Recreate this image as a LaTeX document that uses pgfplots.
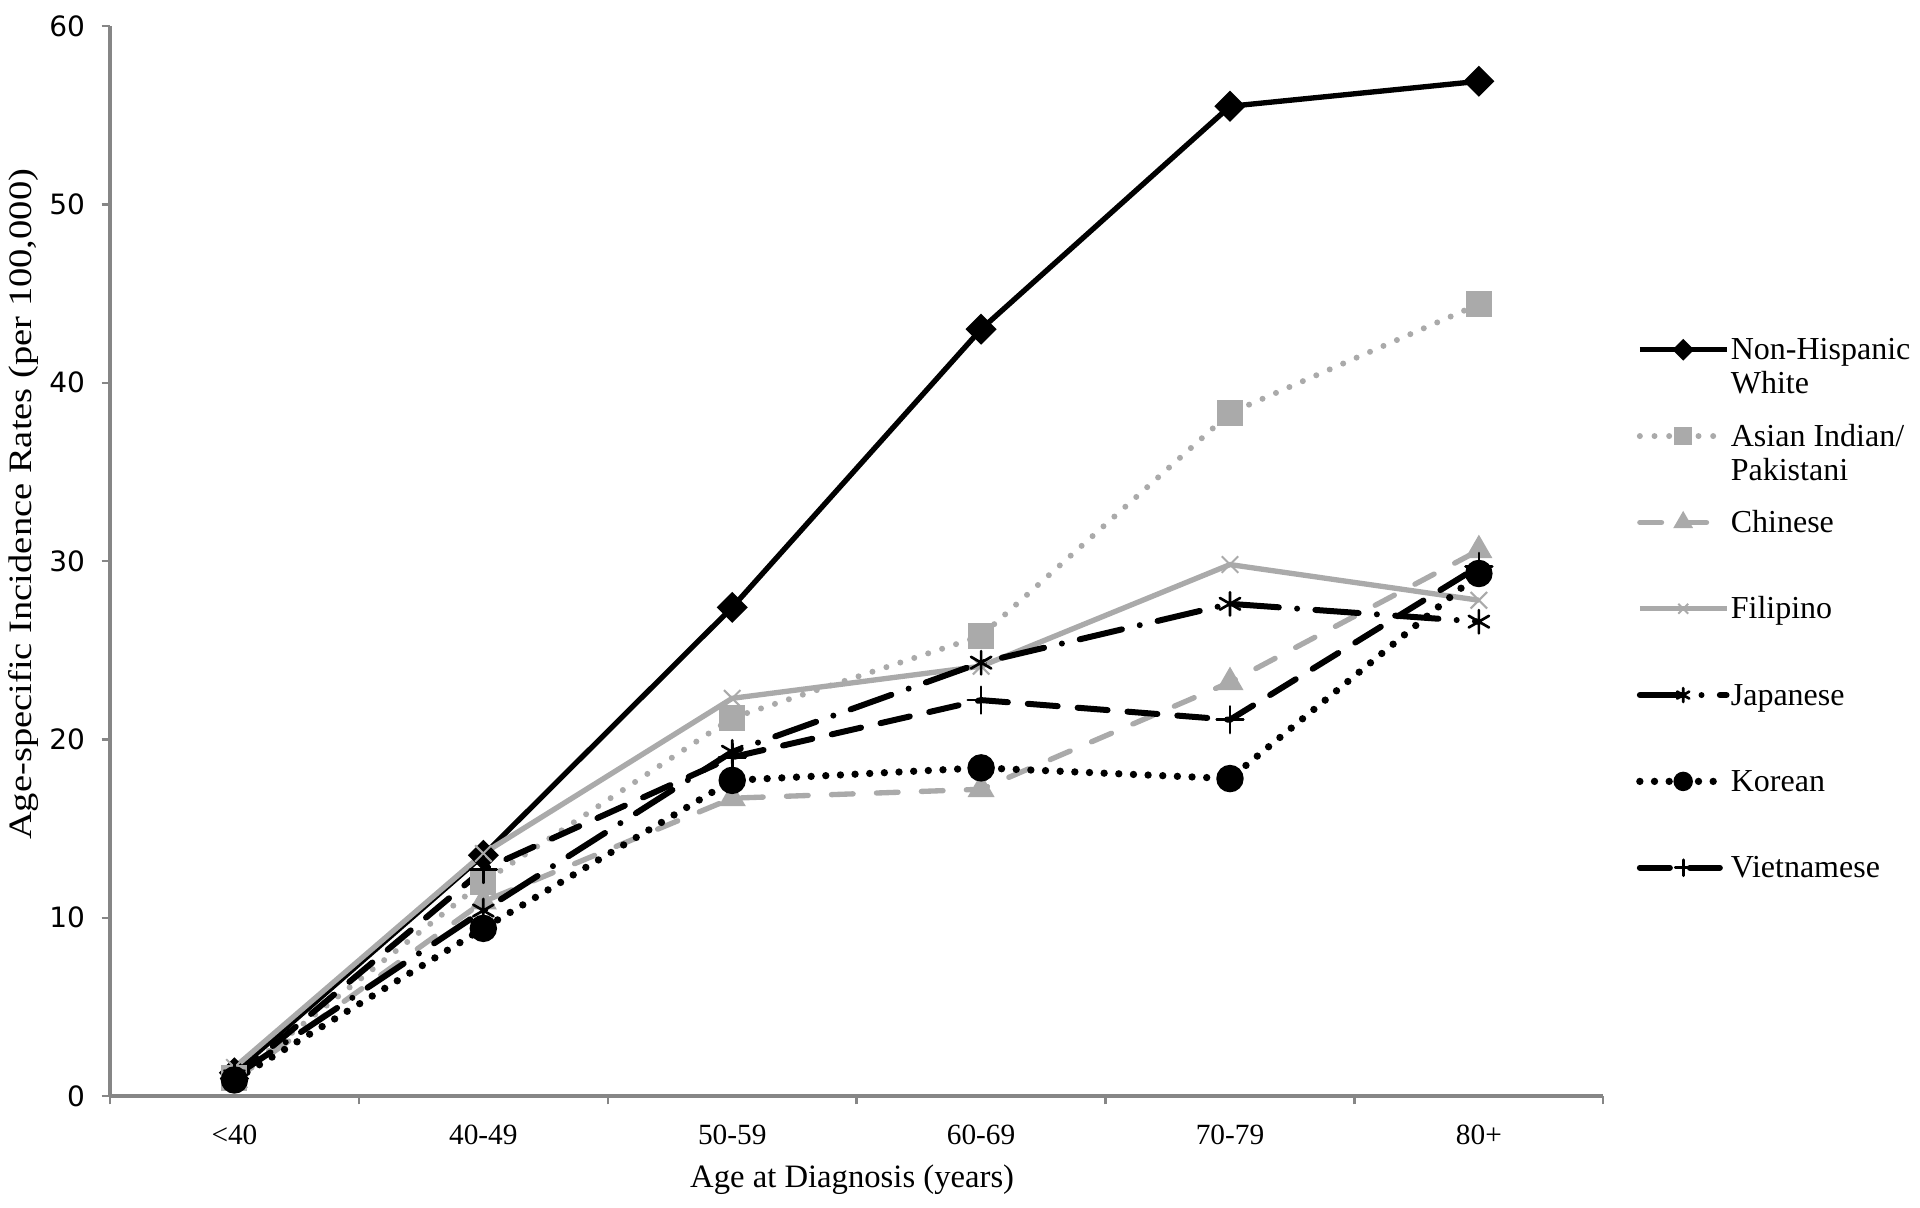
\documentclass[border=0pt]{standalone}
\usepackage{fontspec}
\setmainfont{Liberation Serif}
\newfontfamily\tickfont{DejaVu Sans}
\usepackage{pgfplots}
\pgfplotsset{compat=1.18}
\definecolor{lgray}{RGB}{170,170,170}
\definecolor{axgray}{RGB}{134,134,134}

% one row per age group: <40, 40-49, 50-59, 60-69, 70-79, 80+
\pgfplotstableread{
x  nhw   asian  chinese  filipino  japanese  korean  viet
0  1.3   1.0    0.9      1.6       1.1       0.9     1.0
1  13.5  12.0   10.9     13.6      10.4      9.4     12.7
2  27.4  21.2   16.7     22.3      19.3      17.7    19.0
3  43.0  25.8   17.2     24.1      24.3      18.4    22.2
4  55.5  38.3   23.2     29.8      27.6      17.8    21.1
5  56.9  44.4   30.6     27.8      26.6      29.3    29.7
}\rates

\newcommand\lentry[1]{\begin{tabular}[t]{@{}l@{}}#1\end{tabular}}

\begin{document}
\begin{tikzpicture}
\begin{axis}[
  name=ax,
  scale only axis, width=448pt, height=321pt,
  xmin=-0.5, xmax=5.5, ymin=0, ymax=60,
  clip=false,
  axis lines=left,
  axis line style={-, axgray, line width=1pt},
  xtick={-0.5,0.5,...,5.5},
  x tick label as interval,
  xticklabels={<40,40-49,50-59,60-69,70-79,80+},
  ytick={0,10,...,60},
  tick align=outside, major tick length=2.5pt,
  tick style={axgray, line width=0.7pt},
  /pgf/number format/assume math mode=true,
  yticklabel style={font=\tickfont\fontsize{8.4}{9}\selectfont, xshift=-1.5pt},
  xticklabel style={font=\fontsize{8.8}{10}\selectfont, yshift=-2.6pt},
  every axis x label/.style={at={(axis description cs:0.497,0)}, yshift=-25pt, anchor=center},
  every axis y label/.style={at={(axis description cs:0,0.553)}, xshift=-26pt, rotate=90, anchor=center},
  xlabel={Age at Diagnosis (years)},
  ylabel={\scalebox{1.18}[1]{Age-specific Incidence Rates (per 100,000)}},
  label style={font=\fontsize{9.8}{11}\selectfont},
  legend image code/.code={\draw[mark repeat=2, mark phase=2, #1,
      every mark/.append style={scale=0.6}]
    plot coordinates {(0pt,3pt) (13pt,3pt) (26pt,3pt)};},
  legend style={at={(axis description cs:1.022,0.716)}, anchor=north west,
    draw=none, fill=none, inner sep=0pt, outer sep=0pt,
    row sep=0pt, column sep=0pt,
    nodes={inner xsep=0.2pt, inner ysep=0.95pt, anchor=base west,
      text height=8pt, text depth=16pt,
      font=\fontsize{9.6}{10.2}\selectfont}},
]
\addplot[black, line width=1.6pt, mark=square*, mark size=2.5pt,
  mark options={solid, rotate=45}] table[x=x, y=nhw] {\rates};
\addlegendentry{\lentry{Non-Hispanic\\White}}

\addplot[lgray, line width=1.8pt, line cap=round, dash pattern=on 0pt off 4.4pt,
  mark=square*, mark size=3.0pt, mark options={solid}] table[x=x, y=asian] {\rates};
\addlegendentry{\lentry{Asian Indian/\\Pakistani}}

\addplot[lgray, line width=1.6pt, line cap=round, dash pattern=on 6.5pt off 7pt,
  mark=triangle*, mark size=3.1pt, mark options={solid}] table[x=x, y=chinese] {\rates};
\addlegendentry{\lentry{Chinese}}

\addplot[lgray, line width=1.6pt, mark=x, mark size=3.5pt,
  mark options={solid, line width=0.6pt}] table[x=x, y=filipino] {\rates};
\addlegendentry{\lentry{Filipino}}

\addplot[black, line width=1.8pt, line cap=round,
  dash pattern=on 13pt off 5.5pt on 0pt off 5.5pt,
  mark=asterisk, mark size=3.5pt, mark options={solid, line width=0.8pt}]
  table[x=x, y=japanese] {\rates};
\addlegendentry{\lentry{Japanese}}

\addplot[black, line width=2.2pt, line cap=round, dash pattern=on 0pt off 4.4pt,
  mark=*, mark size=3.0pt, mark options={solid}] table[x=x, y=korean] {\rates};
\addlegendentry{\lentry{Korean}}

\addplot[black, line width=1.8pt, line cap=round, dash pattern=on 9pt off 6pt,
  mark=+, mark size=4pt, mark options={solid, line width=0.8pt}]
  table[x=x, y=viet] {\rates};
\addlegendentry{\lentry{Vietnamese}}
\end{axis}
\pgfresetboundingbox
\path (ax.south west) ++(-33pt,-33.3pt) rectangle ++(576pt,362.1pt);
\end{tikzpicture}
\end{document}
